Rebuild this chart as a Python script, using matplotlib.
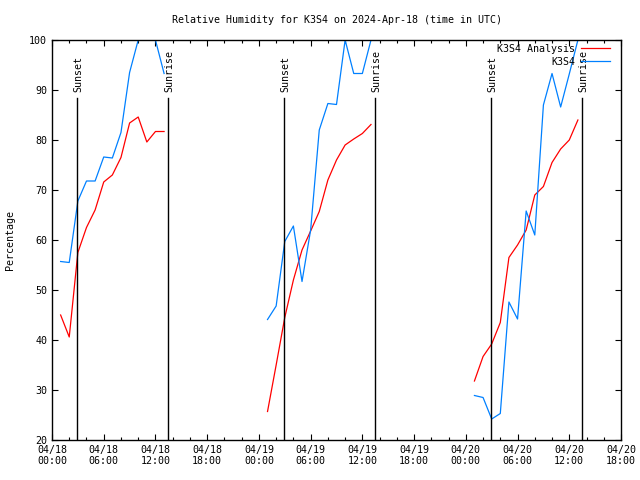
import numpy as np
import matplotlib.pyplot as plt
from matplotlib.ticker import MultipleLocator

plt.rcParams['font.family'] = 'DejaVu Sans Mono'

# hours since 2024-04-18 00:00 UTC
hours_1 = [1, 2, 3, 4, 5, 6, 7, 8, 9, 10, 11, 12, 13]
hours_2 = [25, 26, 27, 28, 29, 30, 31, 32, 33, 34, 35, 36, 37]
hours_3 = [49, 50, 51, 52, 53, 54, 55, 56, 57, 58, 59, 60, 61]

analysis_1 = [45.0, 40.6, 57.5, 62.5, 66.0, 71.6, 73.0, 76.5, 83.4, 84.6, 79.6, 81.7, 81.7]
analysis_2 = [25.7, 35.0, 44.5, 52.0, 58.0, 61.8, 65.7, 72.0, 76.0, 79.0, 80.2, 81.3, 83.1]
analysis_3 = [31.8, 36.7, 39.2, 43.5, 56.5, 59.0, 62.0, 69.0, 70.7, 75.5, 78.2, 80.0, 84.0]

obs_1 = [55.7, 55.5, 67.8, 71.8, 71.8, 76.6, 76.4, 81.5, 93.5, 100.0, 100.0, 100.0, 93.3]
obs_2 = [44.1, 46.8, 59.7, 62.8, 51.7, 62.0, 82.0, 87.3, 87.1, 100.0, 93.3, 93.3, 100.0]
obs_3 = [28.9, 28.5, 24.2, 25.3, 47.6, 44.2, 65.8, 61.0, 87.0, 93.3, 86.6, 93.2, 100.0]

sunset_hours = [2.93, 26.95, 50.93]
sunrise_hours = [13.45, 37.47, 61.48]

tick_hours = list(range(0, 67, 6))
tick_labels = ["04/18\n00:00", "04/18\n06:00", "04/18\n12:00", "04/18\n18:00",
               "04/19\n00:00", "04/19\n06:00", "04/19\n12:00", "04/19\n18:00",
               "04/20\n00:00", "04/20\n06:00", "04/20\n12:00", "04/20\n18:00"]

red = "#ff0000"
blue = "#0080ff"
fs = 7.2

fig = plt.figure(figsize=(6.4, 4.8), dpi=100)
ax = fig.add_axes([52 / 640, 40 / 480, 569 / 640, 400 / 480])

first = True
for h, a, o in [(hours_1, analysis_1, obs_1), (hours_2, analysis_2, obs_2), (hours_3, analysis_3, obs_3)]:
    ax.plot(h, a, color=red, lw=0.9, label="K3S4 Analysis" if first else None)
    ax.plot(h, o, color=blue, lw=0.9, label="K3S4" if first else None)
    first = False

line_top = (88.4 - 20) / 80
for s in sunset_hours:
    ax.axvline(s, ymin=0, ymax=line_top, color="black", lw=1)
    ax.text(s + 0.12, 89.6, "Sunset", rotation=90, ha="center", va="bottom", fontsize=fs)
for s in sunrise_hours:
    ax.axvline(s, ymin=0, ymax=line_top, color="black", lw=1)
    ax.text(s + 0.12, 89.6, "Sunrise", rotation=90, ha="center", va="bottom", fontsize=fs)

ax.set_xlim(0, 66)
ax.set_ylim(20, 100)
ax.set_xticks(tick_hours)
ax.set_xticklabels(tick_labels, fontsize=fs)
ax.xaxis.set_minor_locator(MultipleLocator(2))
ax.yaxis.set_major_locator(MultipleLocator(10))
ax.tick_params(axis="y", labelsize=fs)
ax.tick_params(which="major", direction="in", length=4.5, top=True, right=True, width=0.8)
ax.tick_params(which="minor", direction="in", length=2.5, top=True, right=True, width=0.8)
for sp in ax.spines.values():
    sp.set_linewidth(1)

ax.set_ylabel("Percentage", fontsize=fs, labelpad=10)
ax.set_title("Relative Humidity for K3S4 on 2024-Apr-18 (time in UTC)", fontsize=fs, pad=12)

ax.legend(loc="upper right", bbox_to_anchor=(0.981, 0.99), frameon=False, markerfirst=False,
          fontsize=fs, handlelength=2.9, borderaxespad=0, labelspacing=0.3,
          handletextpad=0.6, borderpad=0)

fig.savefig("out.png", dpi=100)
